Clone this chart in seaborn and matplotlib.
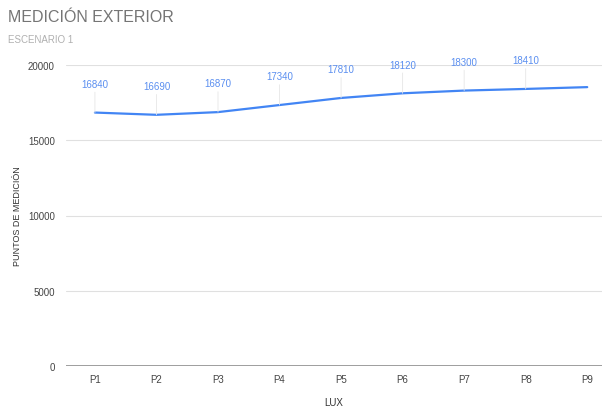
import matplotlib
matplotlib.use("Agg")
import matplotlib.pyplot as plt
import seaborn as sns
import pandas as pd

categories = ["P1", "P2", "P3", "P4", "P5", "P6", "P7", "P8", "P9"]
values = [16840, 16690, 16870, 17340, 17810, 18120, 18300, 18410, 18530]
labels_shown = [True, True, True, True, True, True, True, True, False]
y_ticks = [0, 5000, 10000, 15000, 20000]

sns.set_theme(style="white")
plt.rcParams['font.family'] = ['Liberation Sans', 'DejaVu Sans']

df = pd.DataFrame({"x": range(len(categories)), "y": values})

fig = plt.figure(figsize=(6.02, 4.10), dpi=100)
ax = fig.add_axes([66/602, 1 - 367/410, (602 - 66)/602, (367 - 66)/410])

for t in y_ticks[1:]:
    ax.axhline(t, color="#e0e0e0", lw=0.8, zorder=0)
ax.axhline(0, color="#9e9e9e", lw=1.4, zorder=1)

sns.lineplot(data=df, x="x", y="y", ax=ax, color="#4285F4", lw=1.6, zorder=3)

for i, (v, show) in enumerate(zip(values, labels_shown)):
    if not show:
        continue
    ax.annotate(str(v), xy=(i, v), xytext=(0, 17), textcoords="offset points",
                ha="center", va="bottom", fontsize=7, color="#5b8ff0",
                arrowprops=dict(arrowstyle="-", color="#e6e6e6", lw=0.6,
                                shrinkA=0, shrinkB=0))

ax.set_xlim(-0.47, 8.24)
ax.set_ylim(0, 20000)
ax.set_yticks(y_ticks)
ax.set_yticklabels([str(t) for t in y_ticks])
ax.set_xticks(range(len(categories)))
ax.set_xticklabels(categories)
ax.tick_params(axis="both", labelsize=7, colors="#444444", length=0)
ax.tick_params(axis="x", pad=6)
ax.tick_params(axis="y", pad=8)
for s in ax.spines.values():
    s.set_visible(False)

ax.set_xlabel("LUX", fontsize=7, color="#333333", labelpad=9)
ax.set_ylabel("PUNTOS DE MEDICIÓN", fontsize=6.5, color="#333333", labelpad=4)

fig.text(8/602, 1 - 18/410, "MEDICIÓN EXTERIOR", fontsize=11.5, color="#757575",
         ha="left", va="center")
fig.text(8/602, 1 - 40/410, "ESCENARIO 1", fontsize=7, color="#b0b0b0",
         ha="left", va="center")

fig.savefig("out.png", dpi=100)
